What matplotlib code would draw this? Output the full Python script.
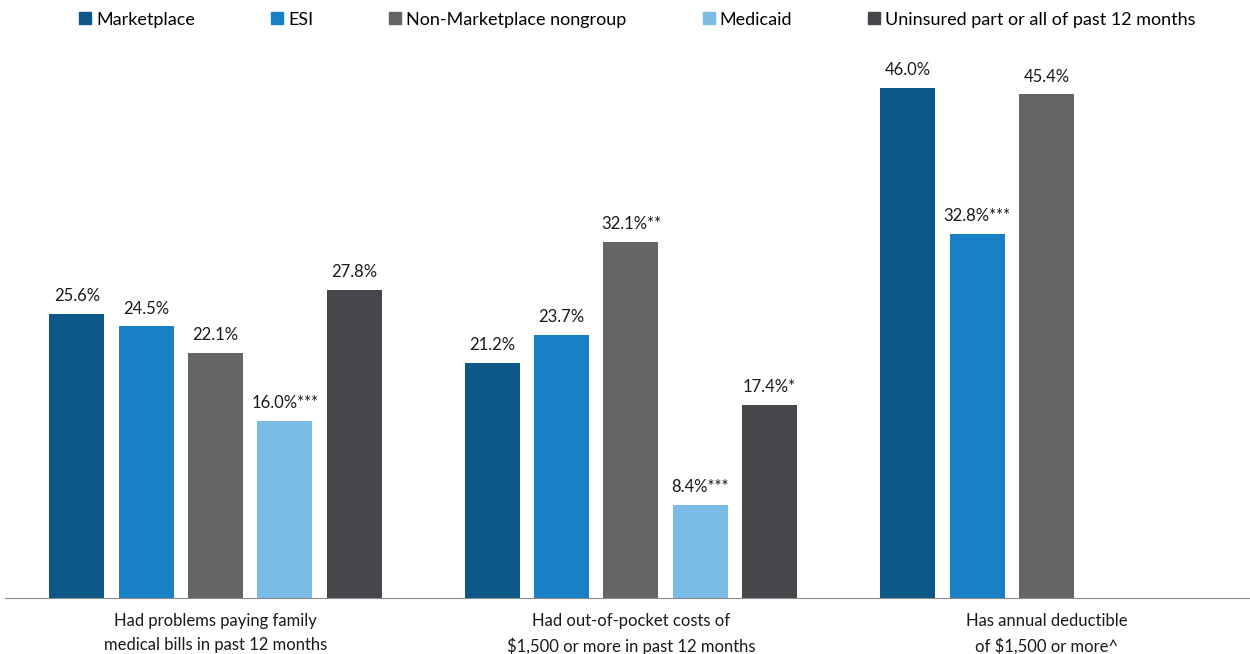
import numpy as np
import matplotlib.pyplot as plt
from matplotlib.lines import Line2D

plt.rcParams['font.family'] = ['Lato', 'DejaVu Sans']

# Data
categories = ["Had problems paying family\nmedical bills in past 12 months",
              "Had out-of-pocket costs of\n$1,500 or more in past 12 months",
              "Has annual deductible\nof $1,500 or more^"]
series = ["Marketplace", "ESI", "Non-Marketplace nongroup", "Medicaid",
          "Uninsured part or all of past 12 months"]
values = [
    [25.6, 21.2, 46.0],
    [24.5, 23.7, 32.8],
    [22.1, 32.1, 45.4],
    [16.0, 8.4, None],
    [27.8, 17.4, None],
]
flags = [
    ["", "", ""],
    ["", "", "***"],
    ["", "**", ""],
    ["***", "***", ""],
    ["", "*", ""],
]
colors = ["#0e5889", "#1880c4", "#646567", "#7bbde7", "#46474b"]

fig = plt.figure(figsize=(12.5, 6.54), dpi=100)
ax = fig.add_axes([0.004, 0.0856, 0.996, 0.848])

slot = 0.1668
width = 0.1324
x = np.arange(len(categories))
for i, name in enumerate(series):
    for j, v in enumerate(values[i]):
        if v is None:
            continue
        xi = x[j] + (i - 2) * slot
        ax.bar(xi, v, width=width, color=colors[i])
        ax.annotate("%.1f%%%s" % (v, flags[i][j]), (xi, v), xytext=(0, 7),
                    textcoords='offset points', ha='center', va='bottom',
                    fontsize=12, color='#1a1a1a')

ax.set_xlim(-0.5066, 2.4898)
ax.set_ylim(0, 50)
for s in ['top', 'right', 'left']:
    ax.spines[s].set_visible(False)
ax.spines['bottom'].set_color('#8c8c8c')
ax.set_yticks([])
ax.set_xticks(x)
ax.set_xticklabels(categories, fontsize=12, color='#1a1a1a', linespacing=1.6)
ax.tick_params(axis='x', length=0, pad=11)

handles = [Line2D([], [], marker='s', linestyle='none', markersize=8,
                  color=c) for c in colors]
fig.legend(handles, series, loc='upper left', bbox_to_anchor=(0.051, 1.007),
           ncol=5, frameon=False, fontsize=13, handlelength=0.6,
           handletextpad=0.3, columnspacing=4.25)

plt.savefig('out.png', dpi=100)
